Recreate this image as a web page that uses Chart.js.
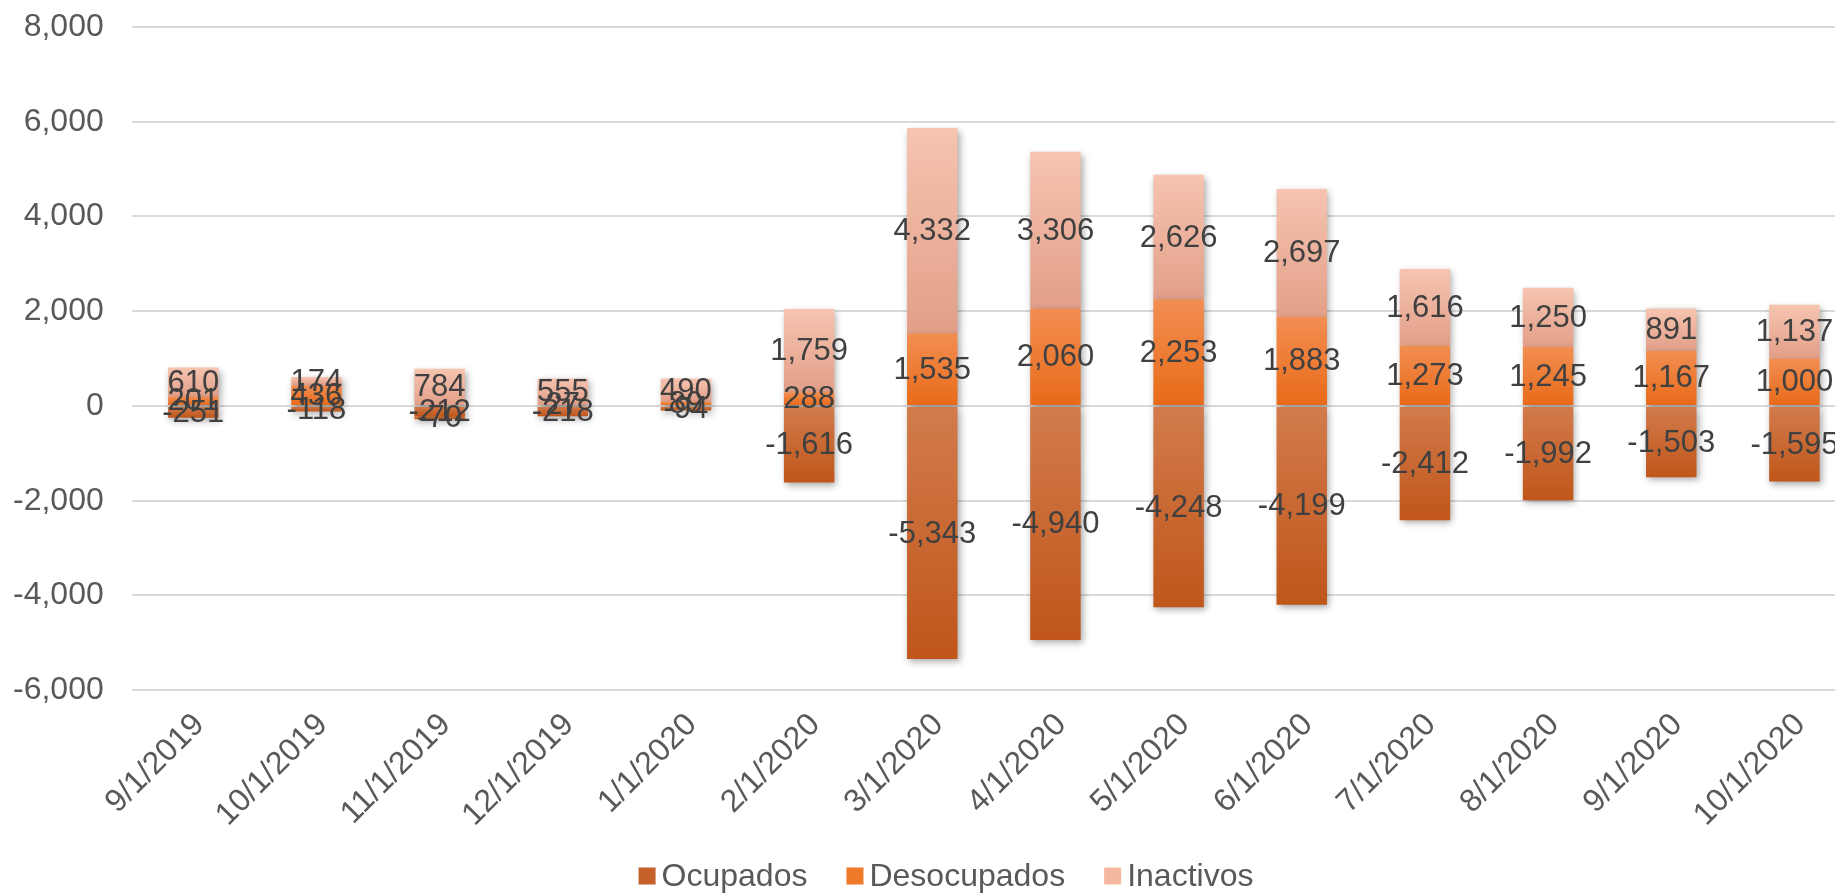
<!DOCTYPE html>
<html>
<head>
<meta charset="utf-8">
<script src="https://cdn.jsdelivr.net/npm/chart.js@4"></script>
<style>
  html, body { margin: 0; padding: 0; background: #ffffff; overflow: hidden; }
  #wrap { position: relative; width: 1856px; height: 894px; }
</style>
</head>
<body>
<div id="wrap"><canvas id="c"></canvas></div>
<script>
const categories = ['9/1/2019','10/1/2019','11/1/2019','12/1/2019','1/1/2020','2/1/2020','3/1/2020','4/1/2020','5/1/2020','6/1/2020','7/1/2020','8/1/2020','9/1/2020','10/1/2020'];
const ocupados    = [-251, -118, -212, -218, -94, -1616, -5343, -4940, -4248, -4199, -2412, -1992, -1503, -1595];
const desocupados = [201, 436, -70, 27, 89, 288, 1535, 2060, 2253, 1883, 1273, 1245, 1167, 1000];
const inactivos   = [610, 174, 784, 555, 490, 1759, 4332, 3306, 2626, 2697, 1616, 1250, 891, 1137];
const seriesNames = ['Ocupados', 'Desocupados', 'Inactivos'];
const yMin = -6000, yMax = 8000, yStep = 2000;

const allSeries = [ocupados, desocupados, inactivos];
const gradColors = [
  ['#d27b4c', '#c0561a'],
  ['#f28e52', '#e86a18'],
  ['#f6c4b0', '#e29f88']
];
const legendColors = ['#c5602a', '#f07a2a', '#f3b8a0'];

function fmt(v) { return Number(v).toLocaleString('en-US'); }

function segBounds(ds, i) {
  const v = allSeries[ds][i];
  let start = 0;
  for (let k = 0; k < ds; k++) {
    const w = allSeries[k][i];
    if ((w >= 0) === (v >= 0)) start += w;
  }
  return [start, start + v];
}

function makeBg(ds) {
  return function (c) {
    const chart = c.chart;
    const ys = chart.scales && chart.scales.y;
    if (!chart.chartArea || !ys || c.dataIndex === undefined) return gradColors[ds][0];
    const [a, b] = segBounds(ds, c.dataIndex);
    const top = ys.getPixelForValue(Math.max(a, b));
    const bot = ys.getPixelForValue(Math.min(a, b));
    if (!isFinite(top) || !isFinite(bot) || Math.abs(bot - top) < 1) return gradColors[ds][0];
    const g = chart.ctx.createLinearGradient(0, top, 0, bot);
    g.addColorStop(0, gradColors[ds][0]);
    g.addColorStop(1, gradColors[ds][1]);
    return g;
  };
}

const shadowPlugin = {
  id: 'barShadow',
  beforeDatasetsDraw(chart) {
    const ctx = chart.ctx;
    ctx.save();
    ctx.shadowColor = 'rgba(0,0,0,0.35)';
    ctx.shadowBlur = 7;
    ctx.shadowOffsetX = 2;
    ctx.shadowOffsetY = 3;
  },
  afterDatasetsDraw(chart) {
    chart.ctx.restore();
  }
};

const labelPlugin = {
  id: 'segLabels',
  afterDatasetsDraw(chart) {
    const ctx = chart.ctx;
    ctx.save();
    ctx.font = '31px "Liberation Sans", Arial, sans-serif';
    ctx.fillStyle = '#404040';
    ctx.textAlign = 'center';
    ctx.textBaseline = 'middle';
    chart.data.datasets.forEach((ds, d) => {
      const meta = chart.getDatasetMeta(d);
      meta.data.forEach((el, i) => {
        const p = el.getProps(['x', 'y', 'base'], true);
        ctx.fillText(fmt(ds.data[i]), p.x, (p.y + p.base) / 2 + 1);
      });
    });
    ctx.restore();
  }
};

const legendPlugin = {
  id: 'customLegend',
  afterDraw(chart) {
    const ctx = chart.ctx;
    ctx.save();
    ctx.font = '32px "Liberation Sans", Arial, sans-serif';
    ctx.textBaseline = 'middle';
    ctx.textAlign = 'left';
    const box = 17, gapBox = 6, gapItem = 39;
    const widths = seriesNames.map(n => ctx.measureText(n).width);
    const total = widths.reduce((s, w) => s + box + gapBox + w, 0) + gapItem * (seriesNames.length - 1);
    let x = 946 - total / 2;
    const cy = 876;
    seriesNames.forEach((n, k) => {
      ctx.fillStyle = legendColors[k];
      ctx.fillRect(x, cy - box / 2, box, box);
      ctx.fillStyle = '#595959';
      ctx.fillText(n, x + box + gapBox, cy + 1);
      x += box + gapBox + widths[k] + gapItem;
    });
    ctx.restore();
  }
};

new Chart(document.getElementById('c'), {
  type: 'bar',
  data: {
    labels: categories,
    datasets: allSeries.map((arr, d) => ({
      label: seriesNames[d],
      data: arr,
      backgroundColor: makeBg(d),
      borderWidth: 0,
      categoryPercentage: 1.0,
      barPercentage: 0.41
    }))
  },
  options: {
    responsive: true,
    maintainAspectRatio: false,
    animation: false,
    layout: { padding: { left: 13, right: 0, top: 27, bottom: 44 } },
    plugins: {
      legend: { display: false },
      tooltip: { enabled: false }
    },
    scales: {
      x: {
        stacked: true,
        grid: { display: false, drawTicks: false },
        border: { display: false },
        ticks: {
          color: '#595959',
          font: { family: '"Liberation Sans", Arial, sans-serif', size: 32 },
          minRotation: 45, maxRotation: 45,
          autoSkip: false,
          padding: 16,
          labelOffset: 6
        },
        afterFit(s) { s.paddingLeft = 0; s.paddingRight = 0; }
      },
      y: {
        stacked: true,
        min: yMin, max: yMax,
        grid: { color: '#d9d9d9', lineWidth: 2, drawTicks: false },
        border: { display: false },
        ticks: {
          stepSize: yStep,
          color: '#595959',
          font: { family: '"Liberation Sans", Arial, sans-serif', size: 32 },
          padding: 28,
          callback: v => fmt(v)
        },
        afterFit(s) { s.paddingTop = 0; s.paddingBottom = 0; s.width = s.width - 28; }
      }
    }
  },
  plugins: [shadowPlugin, labelPlugin, legendPlugin]
});
</script>
</body>
</html>
